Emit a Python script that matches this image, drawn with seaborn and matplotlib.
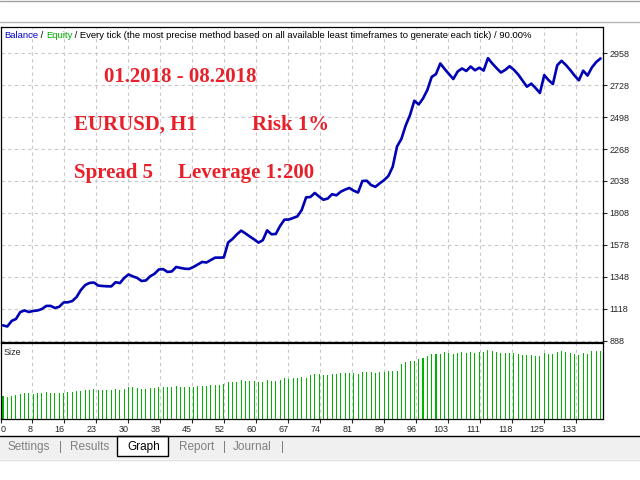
import seaborn as sns
import matplotlib.pyplot as plt
from matplotlib.patches import Rectangle
from matplotlib.lines import Line2D

# balance after each trade
balance = [1000, 992, 1032, 1046, 1096, 1107, 1096, 1104, 1107, 1118,
           1140, 1140, 1125, 1134, 1165, 1166, 1175, 1204, 1255, 1290,
           1305, 1308, 1286, 1283, 1281, 1280, 1310, 1304, 1341, 1366,
           1352, 1341, 1319, 1323, 1353, 1371, 1402, 1404, 1384, 1388,
           1420, 1413, 1407, 1406, 1420, 1438, 1456, 1452, 1470, 1487,
           1487, 1488, 1596, 1621, 1654, 1681, 1661, 1639, 1618, 1595,
           1612, 1683, 1655, 1657, 1715, 1760, 1761, 1772, 1784, 1830,
           1920, 1923, 1952, 1926, 1903, 1912, 1943, 1935, 1961, 1976,
           1988, 1968, 1955, 2038, 2040, 2009, 1996, 2021, 2044, 2074,
           2140, 2286, 2340, 2437, 2512, 2615, 2588, 2631, 2692, 2786,
           2807, 2883, 2843, 2807, 2771, 2825, 2847, 2829, 2861, 2834,
           2852, 2832, 2921, 2883, 2849, 2818, 2837, 2863, 2837, 2803,
           2760, 2716, 2738, 2706, 2671, 2799, 2763, 2735, 2870, 2902,
           2872, 2836, 2796, 2762, 2831, 2796, 2854, 2893, 2919]

# position size per trade (lots)
lot_size = [0.070, 0.067, 0.070, 0.071, 0.074, 0.077, 0.077, 0.074, 0.077, 0.077,
            0.080, 0.079, 0.077, 0.077, 0.079, 0.082, 0.080, 0.083, 0.085, 0.088,
            0.088, 0.091, 0.088, 0.088, 0.088, 0.088, 0.091, 0.088, 0.091, 0.097,
            0.095, 0.094, 0.091, 0.091, 0.094, 0.094, 0.096, 0.097, 0.097, 0.097,
            0.100, 0.097, 0.097, 0.097, 0.097, 0.100, 0.100, 0.100, 0.103, 0.103,
            0.103, 0.106, 0.111, 0.111, 0.111, 0.117, 0.114, 0.114, 0.114, 0.111,
            0.111, 0.117, 0.114, 0.114, 0.117, 0.124, 0.121, 0.122, 0.124, 0.127,
            0.124, 0.133, 0.134, 0.136, 0.133, 0.133, 0.136, 0.136, 0.139, 0.139,
            0.139, 0.139, 0.136, 0.142, 0.142, 0.142, 0.139, 0.142, 0.142, 0.145,
            0.145, 0.145, 0.166, 0.172, 0.175, 0.175, 0.181, 0.184, 0.190, 0.196,
            0.196, 0.196, 0.202, 0.199, 0.196, 0.199, 0.202, 0.199, 0.202, 0.199,
            0.202, 0.202, 0.208, 0.205, 0.202, 0.199, 0.199, 0.199, 0.199, 0.196,
            0.193, 0.193, 0.193, 0.190, 0.190, 0.199, 0.196, 0.196, 0.202, 0.205,
            0.202, 0.199, 0.196, 0.193, 0.199, 0.196, 0.205, 0.205, 0.205]

x_labels = ['0', '8', '16', '23', '30', '38', '45', '52', '60', '67', '74',
            '81', '89', '96', '103', '111', '118', '125', '133']
y_ticks = [888, 1118, 1348, 1578, 1808, 2038, 2268, 2498, 2728, 2958]

trades = list(range(len(balance)))

sns.set_style('white')
plt.rcParams['font.family'] = ['Liberation Sans', 'DejaVu Sans']

W, H = 640, 480
fig = plt.figure(figsize=(6.4, 4.8), dpi=100)
ax = fig.add_axes([1 / W, 1 - 341.5 / H, 602 / W, 314.2 / H])
ax2 = fig.add_axes([1 / W, 1 - 419 / H, 602 / W, 76 / H])

grid_kw = dict(color='#c8c8c8', linestyle=(0, (3, 3)), linewidth=0.8)
xmin, xmax = -0.46, 138.57
first_tick, tick_step = 6.77, 7.39
xt = [xmin] + [first_tick + tick_step * k for k in range(len(x_labels) - 1)]

# balance
sns.lineplot(x=trades, y=balance, ax=ax, color='#0000b4', linewidth=1.9)
ax.set_xlim(xmin, xmax)
ax.set_ylim(884, 3143)
ax.set_yticks(y_ticks)
ax.set_xticks(xt)
ax.yaxis.tick_right()
ax.tick_params(axis='y', length=3, width=0.8, pad=1.5, labelsize=6.5, right=True)
ax.tick_params(axis='x', length=0, labelbottom=False)
ax.set_xlabel('')
ax.set_ylabel('')
ax.grid(True, **grid_kw)
ax.set_axisbelow(True)

# lots
sns.barplot(x=trades, y=lot_size, ax=ax2, color='#00b400', width=0.235,
            saturation=1, errorbar=None, native_scale=True, linewidth=0)
for p in ax2.patches:
    p.set_antialiased(False)
ax2.set_xlim(xmin, xmax)
ax2.set_ylim(0, 0.228)
ax2.set_yticks([])
ax2.set_xticks(xt, x_labels)
ax2.tick_params(axis='x', length=3, width=0.8, pad=1, labelsize=6.5, bottom=True)
for i, lab in enumerate(ax2.get_xticklabels()):
    lab.set_ha('left' if i == 0 else 'right')
ax2.set_xlabel('')
ax2.set_ylabel('')
ax2.grid(True, axis='x', **grid_kw)
ax2.set_axisbelow(True)
ax2.text(0.005, 0.88, 'Size', transform=ax2.transAxes, va='center', fontsize=6.5)

for a in (ax, ax2):
    for s in a.spines.values():
        s.set_color('black')
        s.set_linewidth(0.9)

# header line
t = ax.text(0.005, 0.9745, 'Balance', transform=ax.transAxes, va='center',
            fontsize=6.8, color='#0000c8')
parts = [(' / ', 'black'), ('Equity', '#00b000'),
         (' / Every tick (the most precise method based on all available least '
          'timeframes to generate each tick) / 90.00%', 'black')]
for txt, col in parts:
    t = ax.annotate(txt, xy=(1, 0), xycoords=t, va='bottom', fontsize=6.8, color=col)

# red notes
red = dict(color='#e8202a', fontsize=15, fontweight='bold',
           family=['Liberation Serif', 'DejaVu Serif'], va='baseline')
notes = [(104, 81.5, '01.2018 - 08.2018'), (74, 130, 'EURUSD, H1'),
         (252, 130, 'Risk 1%'), (74, 178, 'Spread 5'), (178, 178, 'Leverage 1:200')]
for px, py, s in notes:
    fig.text(px / W, 1 - py / H, s, **red)

# window chrome: top lines and tab bar
fig.add_artist(Line2D([0, 1], [1 - 0.5 / H, 1 - 0.5 / H], color='#a0a0a0', lw=1))
fig.add_artist(Line2D([0, 1], [1 - 22 / H, 1 - 22 / H], color='#b4b4b4', lw=1))
fig.add_artist(Rectangle((0, 1 - 458.5 / H), 1, 22.5 / H, transform=fig.transFigure,
                         facecolor='#f0f0f0', edgecolor='none'))
fig.add_artist(Line2D([0, 1], [1 - 436 / H, 1 - 436 / H], color='black', lw=1))
fig.add_artist(Line2D([0, 1], [1 - 459.5 / H, 1 - 459.5 / H], color='#e0e0e0', lw=1))
fig.add_artist(Rectangle((117 / W, 1 - 455.7 / H), 51 / W, 19.7 / H,
                         transform=fig.transFigure, facecolor='white',
                         edgecolor='black', lw=1))
tabs = [(8, 'Settings', '#808080'), (59, '|', '#808080'), (70, 'Results', '#808080'),
        (127, 'Graph', 'black'), (179, 'Report', '#808080'), (223, '|', '#808080'),
        (233, 'Journal', '#808080'), (281, '|', '#808080')]
for px, s, col in tabs:
    fig.text(px / W, 1 - 447 / H, s, color=col, fontsize=8.5, va='center')

fig.savefig('out.png', dpi=100)
